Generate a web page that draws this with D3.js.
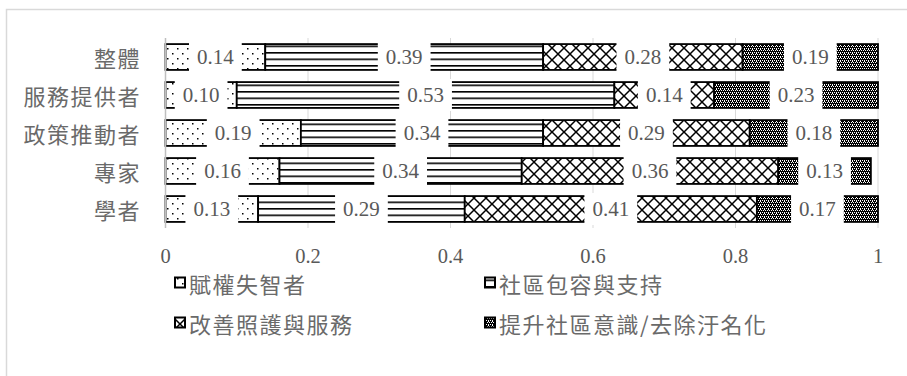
<!DOCTYPE html>
<html>
<head>
<meta charset="utf-8">
<script src="https://cdn.jsdelivr.net/npm/d3@7"></script>
<style>
  html, body { margin: 0; padding: 0; background: #fff; }
  svg { display: block; }
</style>
</head>
<body>
<svg id="chart" width="907" height="376"></svg>
<script>
// Stacked share of each priority area by respondent group
const groups = ["整體", "服務提供者", "政策推動者", "專家", "學者"];
const seriesNames = ["賦權失智者", "社區包容與支持", "改善照護與服務", "提升社區意識/去除汙名化"];
const empower   = [0.14, 0.10, 0.19, 0.16, 0.13];
const inclusion = [0.39, 0.53, 0.34, 0.34, 0.29];
const care      = [0.28, 0.14, 0.29, 0.36, 0.41];
const awareness = [0.19, 0.23, 0.18, 0.13, 0.17];
const xTicks = [0, 0.2, 0.4, 0.6, 0.8, 1];
const xTickLabels = ["0", "0.2", "0.4", "0.6", "0.8", "1"];

const seriesValues = [empower, inclusion, care, awareness];
const rows = groups.map((g, i) => {
  const r = { group: g };
  seriesNames.forEach((s, k) => { r[s] = seriesValues[k][i]; });
  return r;
});

const svg = d3.select("#chart");
const cjk = "'Noto Sans CJK TC', 'Noto Sans CJK SC', sans-serif";
const serif = "'Liberation Serif', 'DejaVu Serif', serif";
const grey = "#595959";
const cjkGrey = "#6a6a6a";

// Outer chart frame
svg.append("rect")
  .attr("x", 6.5).attr("y", 9.5).attr("width", 920).attr("height", 400)
  .attr("fill", "none").attr("stroke", "#d9d9d9").attr("stroke-width", 1.5);

// Fill patterns
const defs = svg.append("defs");
const pDots = defs.append("pattern").attr("id", "p-dots")
  .attr("patternUnits", "userSpaceOnUse").attr("width", 10).attr("height", 10);
pDots.append("rect").attr("width", 10).attr("height", 10).attr("fill", "#fff");
pDots.append("rect").attr("x", 2).attr("y", 3).attr("width", 1.5).attr("height", 1.5).attr("fill", "#000");
pDots.append("rect").attr("x", 7).attr("y", 8).attr("width", 1.5).attr("height", 1.5).attr("fill", "#000");

const pLines = defs.append("pattern").attr("id", "p-lines")
  .attr("patternUnits", "userSpaceOnUse").attr("width", 8).attr("height", 6.5);
pLines.append("rect").attr("width", 8).attr("height", 6.5).attr("fill", "#fff");
pLines.append("rect").attr("y", 0).attr("width", 8).attr("height", 1.6).attr("fill", "#000");

const pDiamond = defs.append("pattern").attr("id", "p-diamond")
  .attr("patternUnits", "userSpaceOnUse").attr("width", 12).attr("height", 12);
pDiamond.append("rect").attr("width", 12).attr("height", 12).attr("fill", "#fff");
pDiamond.append("path").attr("d", "M0,0 L12,12 M12,0 L0,12")
  .attr("stroke", "#000").attr("stroke-width", 1.5);

const pChecker = defs.append("pattern").attr("id", "p-checker")
  .attr("patternUnits", "userSpaceOnUse").attr("width", 4).attr("height", 4);
pChecker.append("rect").attr("width", 4).attr("height", 4).attr("fill", "#000");
[[0, 0], [2, 0], [1, 2], [3, 2], [0, 1]].forEach(([px, py]) => {
  pChecker.append("rect").attr("x", px).attr("y", py).attr("width", 1).attr("height", 1).attr("fill", "#fff");
});

const fills = ["url(#p-dots)", "url(#p-lines)", "url(#p-diamond)", "url(#p-checker)"];

// Scales
const x = d3.scaleLinear().domain([0, 1]).range([165.5, 878]);
const y = d3.scaleBand().domain(groups).range([38, 228]).paddingInner(0.32).paddingOuter(0.16);

// Gridlines
svg.append("g")
  .selectAll("line").data(xTicks.filter(t => t > 0)).join("line")
  .attr("x1", d => x(d)).attr("x2", d => x(d))
  .attr("y1", 38).attr("y2", 228)
  .attr("stroke", "#d9d9d9").attr("stroke-width", 1);

// Stacked bars
const stack = d3.stack().keys(seriesNames);
const layers = stack(rows);

const barG = svg.append("g");
layers.forEach((layer, k) => {
  barG.append("g").selectAll("rect").data(layer).join("rect")
    .attr("x", d => x(d[0]))
    .attr("width", d => x(d[1]) - x(d[0]))
    .attr("y", d => y(d.data.group))
    .attr("height", y.bandwidth())
    .attr("fill", fills[k])
    .attr("stroke", "#000").attr("stroke-width", 1.8);
});

// Category axis line
svg.append("line")
  .attr("x1", x(0)).attr("x2", x(0)).attr("y1", 38).attr("y2", 228)
  .attr("stroke", "#bfbfbf").attr("stroke-width", 1.5);

// Data labels on white boxes
const labG = svg.append("g");
layers.forEach((layer, k) => {
  layer.forEach(d => {
    const cx = (x(d[0]) + x(d[1])) / 2;
    const cy = y(d.data.group) + y.bandwidth() / 2;
    const g = labG.append("g");
    const box = g.append("rect").attr("fill", "#fff");
    const t = g.append("text")
      .attr("x", cx).attr("y", cy)
      .attr("text-anchor", "middle").attr("dominant-baseline", "central")
      .attr("font-family", serif).attr("font-size", 21)
      .attr("fill", grey)
      .text(d3.format(".2f")(d[1] - d[0]));
    const w = t.node().getComputedTextLength();
    box.attr("x", cx - w / 2 - 8).attr("width", w + 16)
      .attr("y", cy - 16).attr("height", 32);
  });
});

// Category labels
svg.append("g").selectAll("text").data(groups).join("text")
  .attr("x", 141).attr("y", d => y(d) + y.bandwidth() / 2)
  .attr("text-anchor", "end").attr("dominant-baseline", "central")
  .attr("font-family", cjk).attr("font-size", 22).attr("letter-spacing", 1.5)
  .attr("fill", cjkGrey)
  .text(d => d);

// Value axis tick labels
svg.append("g").selectAll("text").data(xTicks).join("text")
  .attr("x", d => x(d)).attr("y", 256)
  .attr("text-anchor", "middle").attr("dominant-baseline", "central")
  .attr("font-family", serif).attr("font-size", 20.5)
  .attr("fill", grey)
  .text((d, i) => xTickLabels[i]);

// Legend
const legendPos = [[174, 283], [484, 283], [174, 323], [484, 323]];
const legG = svg.append("g");
seriesNames.forEach((s, k) => {
  const [lx, ly] = legendPos[k];
  legG.append("rect")
    .attr("x", lx + 1).attr("y", ly - 5.5).attr("width", 10).attr("height", 10)
    .attr("fill", fills[k]).attr("stroke", "#000").attr("stroke-width", 2);
  legG.append("text")
    .attr("x", lx + 15).attr("y", ly)
    .attr("dominant-baseline", "central")
    .attr("font-family", cjk).attr("font-size", 22).attr("letter-spacing", 1.5)
    .attr("fill", cjkGrey)
    .text(s);
});
</script>
</body>
</html>
